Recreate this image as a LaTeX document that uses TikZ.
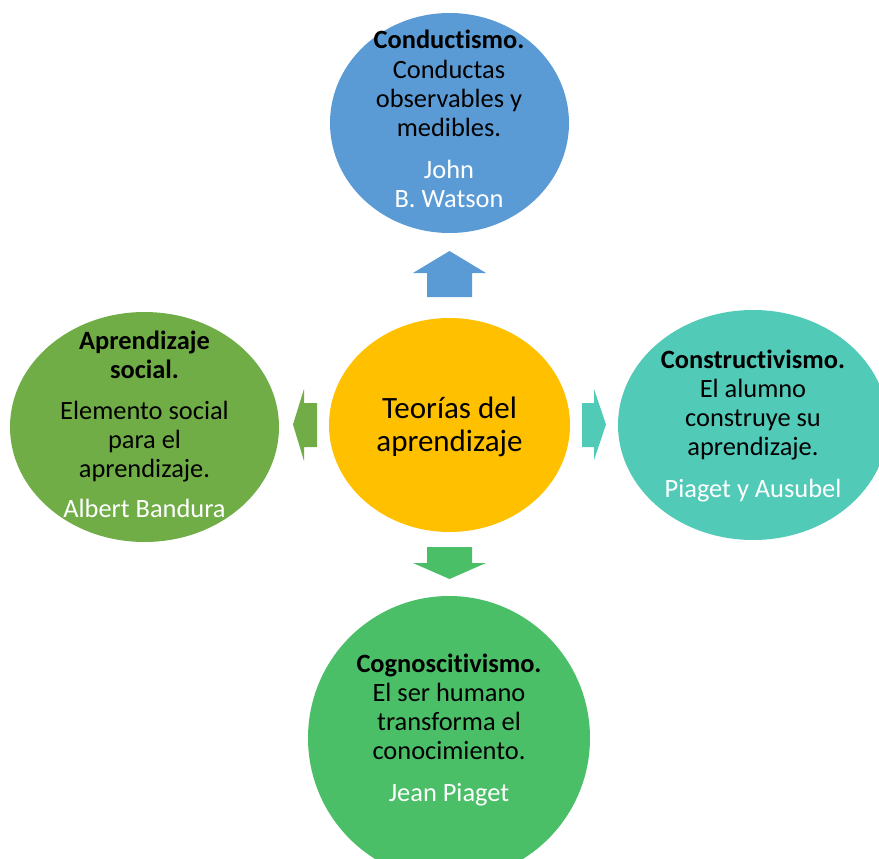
\documentclass[tikz,border=0pt]{standalone}
\usepackage{fontspec}
\setmainfont{Carlito}[Ligatures={NoCommon}]
\usetikzlibrary{shapes.geometric}
\definecolor{cblue}{HTML}{5B9BD5}
\definecolor{cyel}{HTML}{FFC000}
\definecolor{cteal}{HTML}{52CAB8}
\definecolor{cgreen}{HTML}{70AD47}
\definecolor{cgreentwo}{HTML}{4BBF67}
\begin{document}
\begin{tikzpicture}[x=1pt,y=-1pt,
  bubble/.style={ellipse, inner sep=0pt, draw=none},
  txt/.style={anchor=base, inner sep=0pt, font=\fontsize{26.4}{29}\selectfont},
  hd/.style={anchor=base, inner sep=0pt, font=\fontsize{26.4}{29}\selectfont\bfseries},
  who/.style={txt, text=white},
  big/.style={anchor=base, inner sep=0pt, font=\fontsize{31}{34}\selectfont}]
\clip (0,0) rectangle (879,859);
% bubbles
\node[bubble, fill=cblue, minimum width=239pt, minimum height=220pt] (top) at (449.5,123) {};
\node[bubble, fill=cyel, minimum width=241pt, minimum height=214pt] (mid) at (449.5,425) {};
\node[bubble, fill=cteal, minimum width=270pt, minimum height=230pt] (right) at (753,425) {};
\node[bubble, fill=cgreen, minimum width=269pt, minimum height=230pt] (left) at (144.5,427) {};
\node[bubble, fill=cgreentwo, minimum width=282pt, minimum height=284pt] (bot) at (449,738) {};
% block arrows
\fill[cblue] (449.5,251) -- (486,273) -- (472,273) -- (472,297) -- (427,297) -- (427,273) -- (413,273) -- cycle;
\fill[cteal] (582,403) -- (594,403) -- (594,389) -- (606,424.5) -- (594,460) -- (594,447) -- (582,447) -- cycle;
\fill[cgreen] (317,403) -- (304,403) -- (304,389) -- (293,424.5) -- (304,461) -- (304,447) -- (317,447) -- cycle;
\fill[cgreentwo] (427,547) -- (472,547) -- (472,563) -- (486,563) -- (449.5,579) -- (413,563) -- (427,563) -- cycle;
% center text
\node[big] (m1) at (449.5,418) {Teorías del};
\node[big] (m2) at (449.5,451) {aprendizaje};
% top
\node[hd] (t1) at (449,49) {Conductismo.};
\node[txt] (t2) at (449,78) {Conductas};
\node[txt] (t3) at (449,107) {observables y};
\node[txt] (t4) at (449,136) {medibles.};
\node[who] (t5) at (449,178) {John};
\node[who] (t6) at (449,207) {B. Watson};
% right
\node[hd] (r1) at (753,368) {Constructivismo.};
\node[txt] (r2) at (753,397) {El alumno};
\node[txt] (r3) at (753,426) {construye su};
\node[txt] (r4) at (753,455) {aprendizaje.};
\node[who] (r5) at (753,497) {Piaget y Ausubel};
% left
\node[hd] (l1) at (144.5,349) {Aprendizaje};
\node[hd] (l2) at (144.5,378) {social.};
\node[txt] (l3) at (144.5,419) {Elemento social};
\node[txt] (l4) at (144.5,448) {para el};
\node[txt] (l5) at (144.5,477) {aprendizaje.};
\node[who] (l6) at (144.5,517) {Albert Bandura};
% bottom
\node[hd] (b1) at (449,672) {Cognoscitivismo.};
\node[txt] (b2) at (449,701) {El ser humano};
\node[txt] (b3) at (449,730) {transforma el};
\node[txt] (b4) at (449,759) {conocimiento.};
\node[who] (b5) at (449,801) {Jean Piaget};
\end{tikzpicture}
\end{document}
